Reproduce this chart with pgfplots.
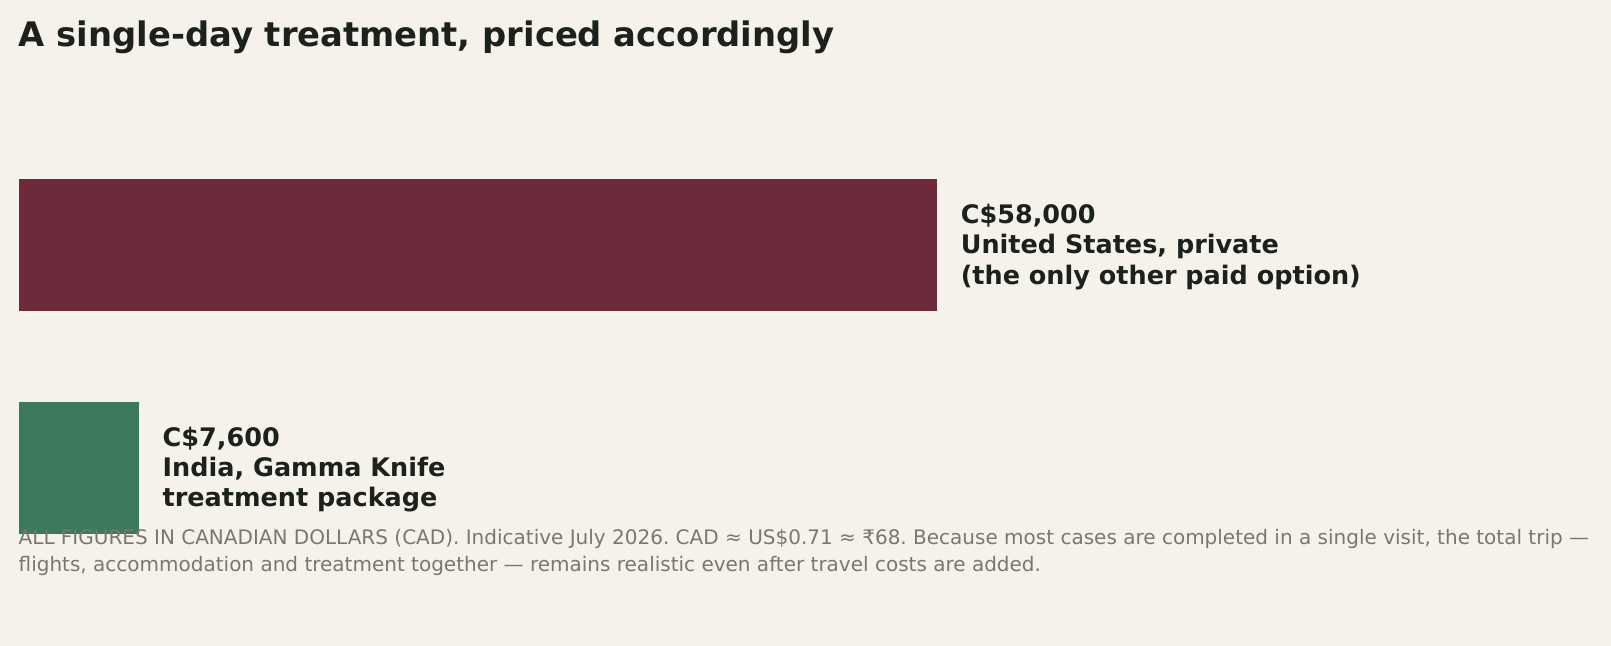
\documentclass[border=0pt]{standalone}
\usepackage{pgfplots}
\pgfplotsset{compat=1.18}
\usepackage{fontspec}
\setmainfont{DejaVu Sans}
\frenchspacing
\definecolor{bg}{RGB}{245,242,236}
\definecolor{usbar}{RGB}{109,42,60}
\definecolor{inbar}{RGB}{59,122,94}
\definecolor{ink}{RGB}{28,33,30}
\definecolor{note}{RGB}{120,120,112}
\begin{document}
\begin{tikzpicture}
\fill[bg] (0,0) rectangle (1611bp,-646bp);
\node[anchor=base west, inner sep=0pt, text=ink, font=\fontsize{33.8bp}{40bp}\selectfont\bfseries] at (18.5bp,-46bp) {A single-day treatment, priced accordingly};
\begin{axis}[
  at={(18.5bp,-578.75bp)}, anchor=south west,
  scale only axis, width=918.5bp, height=445bp,
  xmin=0, xmax=58000, ymin=-0.5, ymax=1.5,
  axis lines=none, ticks=none,
  xbar, bar width=132bp, bar shift=0pt,
  clip=false,
]
\addplot[fill=usbar, draw=none] coordinates {(58000,1)};
\addplot[fill=inbar, draw=none] coordinates {(7600,0)};
\node[anchor=west, align=left, inner sep=0pt, xshift=23.6bp, yshift=-2bp, text=ink, font=\fontsize{25.5bp}{30.4bp}\selectfont\bfseries] at (axis cs:58000,1) {C\$58,000\\United States, private\\(the only other paid option)};
\node[anchor=west, align=left, inner sep=0pt, xshift=23.6bp, yshift=-2bp, text=ink, font=\fontsize{25.5bp}{30.4bp}\selectfont\bfseries] at (axis cs:7600,0) {C\$7,600\\India, Gamma Knife\\treatment package};
\end{axis}
\node[anchor=base west, inner sep=0pt, text=note, font=\fontsize{20bp}{27bp}\selectfont] at (18.5bp,-544.5bp) {ALL FIGURES IN CANADIAN DOLLARS (CAD). Indicative July 2026. CAD ≈ US\$0.71 ≈ ₹68. Because most cases are completed in a single visit, the total trip —};
\node[anchor=base west, inner sep=0pt, text=note, font=\fontsize{20bp}{27bp}\selectfont] at (18.5bp,-571.5bp) {flights, accommodation and treatment together — remains realistic even after travel costs are added.};
\end{tikzpicture}
\end{document}
